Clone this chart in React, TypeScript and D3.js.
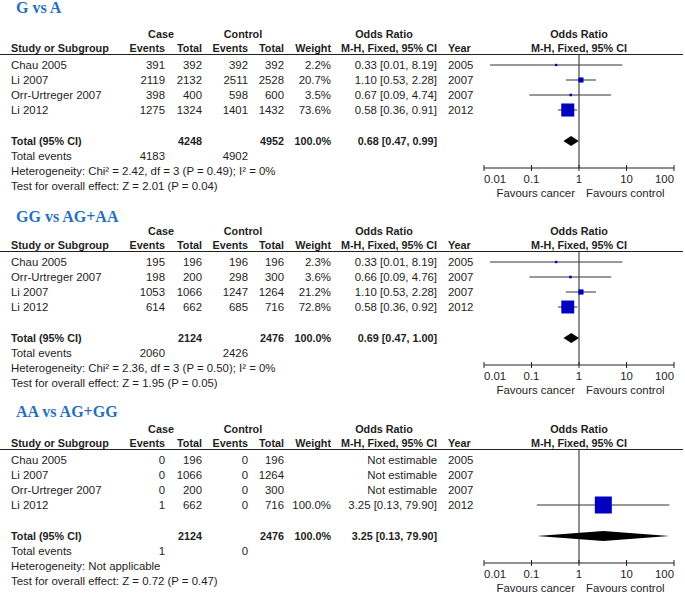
import React from "react";
import * as d3 from "d3";

const panelTitles = ["G vs A", "GG vs AG+AA", "AA vs AG+GG"];
const studies = [
  ["Chau 2005", "Li 2007", "Orr-Urtreger 2007", "Li 2012"],
  ["Chau 2005", "Orr-Urtreger 2007", "Li 2007", "Li 2012"],
  ["Chau 2005", "Li 2007", "Orr-Urtreger 2007", "Li 2012"],
];
const caseEvents = [
  [391, 2119, 398, 1275],
  [195, 198, 1053, 614],
  [0, 0, 0, 1],
];
const caseTotals = [
  [392, 2132, 400, 1324],
  [196, 200, 1066, 662],
  [196, 1066, 200, 662],
];
const ctrlEvents = [
  [392, 2511, 598, 1401],
  [196, 298, 1247, 685],
  [0, 0, 0, 0],
];
const ctrlTotals = [
  [392, 2528, 600, 1432],
  [196, 300, 1264, 716],
  [196, 1264, 300, 716],
];
const weights: (number | null)[][] = [
  [2.2, 20.7, 3.5, 73.6],
  [2.3, 3.6, 21.2, 72.8],
  [null, null, null, 100.0],
];
const oddsRatios: (number | null)[][] = [
  [0.33, 1.1, 0.67, 0.58],
  [0.33, 0.66, 1.1, 0.58],
  [null, null, null, 3.25],
];
const ciLower: (number | null)[][] = [
  [0.0134, 0.53, 0.09, 0.36],
  [0.0134, 0.09, 0.53, 0.36],
  [null, null, null, 0.13],
];
const ciUpper: (number | null)[][] = [
  [8.19, 2.28, 4.74, 0.91],
  [8.19, 4.76, 2.28, 0.92],
  [null, null, null, 79.9],
];
const years = [
  [2005, 2007, 2007, 2012],
  [2005, 2007, 2007, 2012],
  [2005, 2007, 2007, 2012],
];
const totalCase = [4248, 2124, 2124];
const totalCtrl = [4952, 2476, 2476];
const totalEventsCase = [4183, 2060, 1];
const totalEventsCtrl = [4902, 2426, 0];
const pooledOR = [0.68, 0.69, 3.25];
const pooledLo = [0.47, 0.47, 0.13];
const pooledHi = [0.99, 1.0, 79.9];
const heterogeneity = [
  "Heterogeneity: Chi\u00b2 = 2.42, df = 3 (P = 0.49); I\u00b2 = 0%",
  "Heterogeneity: Chi\u00b2 = 2.36, df = 3 (P = 0.50); I\u00b2 = 0%",
  "Heterogeneity: Not applicable",
];
const overallEffect = [
  "Test for overall effect: Z = 2.01 (P = 0.04)",
  "Test for overall effect: Z = 1.95 (P = 0.05)",
  "Test for overall effect: Z = 0.72 (P = 0.47)",
];
const axisTicks = [0.01, 0.1, 1, 10, 100];
const tickLabels = ["0.01", "0.1", "1", "10", "100"];

// layout
const W = 685;
const H = 593;
const panelOffsets = [0, 197, 395];
const titleYs = [13, 222, 417];
const FONT = "'Liberation Sans', Arial, sans-serif";
const TXT = "#1e1e1e";
const REG = 11.4;
const BOLD = 10.8;

const x = d3.scaleLog().domain([0.01, 100]).range([484, 674]);

const colX = {
  study: 11,
  caseEv: 165,
  caseTot: 202,
  ctrlEv: 248,
  ctrlTot: 284,
  weight: 331,
  or: 437,
  year: 448,
};

const fmt2 = (v: number) => v.toFixed(2);
const orText = (o: number, l: number, h: number) => `${fmt2(o)} [${fmt2(l)}, ${fmt2(h)}]`;

function Panel({ p }: { p: number }) {
  const oy = panelOffsets[p];
  const rowY = (i: number) => oy + 69 + i * 15;
  const totalY = oy + 145;
  const axisY = oy + 168;
  const underY = oy + 54.5;
  const x1 = x(1);
  const reg = { fontFamily: FONT, fontSize: REG, fill: TXT };
  const bold = { fontFamily: FONT, fontSize: BOLD, fontWeight: 700, fill: TXT };
  return (
    <g>
      <text x={16} y={titleYs[p]} fontFamily="'Liberation Serif', 'Times New Roman', serif" fontWeight={700} fontSize={16} fill="#1f6fc2">
        {panelTitles[p]}
      </text>
      {/* group headers */}
      <text {...bold} x={161} y={oy + 38} textAnchor="middle">Case</text>
      <text {...bold} x={243} y={oy + 38} textAnchor="middle">Control</text>
      <text {...bold} x={384} y={oy + 38} textAnchor="middle">Odds Ratio</text>
      <text {...bold} x={x1} y={oy + 38} textAnchor="middle">Odds Ratio</text>
      <text {...bold} x={colX.study} y={oy + 52}>Study or Subgroup</text>
      <text {...bold} x={colX.caseEv} y={oy + 52} textAnchor="end">Events</text>
      <text {...bold} x={colX.caseTot} y={oy + 52} textAnchor="end">Total</text>
      <text {...bold} x={colX.ctrlEv} y={oy + 52} textAnchor="end">Events</text>
      <text {...bold} x={colX.ctrlTot} y={oy + 52} textAnchor="end">Total</text>
      <text {...bold} x={colX.weight} y={oy + 52} textAnchor="end">Weight</text>
      <text {...bold} x={colX.or} y={oy + 52} textAnchor="end">M-H, Fixed, 95% CI</text>
      <text {...bold} x={colX.year} y={oy + 52}>Year</text>
      <text {...bold} x={x1} y={oy + 52} textAnchor="middle">M-H, Fixed, 95% CI</text>
      <line x1={0} x2={683} y1={underY} y2={underY} stroke="#222" strokeWidth={1} />
      {/* study rows */}
      {studies[p].map((s, i) => {
        const y = rowY(i);
        const o = oddsRatios[p][i];
        const l = ciLower[p][i];
        const h = ciUpper[p][i];
        const w = weights[p][i];
        return (
          <g key={s + i}>
            <text {...reg} x={colX.study} y={y}>{s}</text>
            <text {...reg} x={colX.caseEv} y={y} textAnchor="end">{caseEvents[p][i]}</text>
            <text {...reg} x={colX.caseTot} y={y} textAnchor="end">{caseTotals[p][i]}</text>
            <text {...reg} x={colX.ctrlEv} y={y} textAnchor="end">{ctrlEvents[p][i]}</text>
            <text {...reg} x={colX.ctrlTot} y={y} textAnchor="end">{ctrlTotals[p][i]}</text>
            {w !== null && (
              <text {...reg} x={colX.weight} y={y} textAnchor="end">{w.toFixed(1)}%</text>
            )}
            <text {...reg} x={colX.or} y={y} textAnchor="end">
              {o !== null && l !== null && h !== null ? orText(o, l, h) : "Not estimable"}
            </text>
            <text {...reg} x={colX.year} y={y}>{years[p][i]}</text>
          </g>
        );
      })}
      {/* totals */}
      <text {...bold} x={colX.study} y={totalY}>Total (95% CI)</text>
      <text {...bold} x={colX.caseTot} y={totalY} textAnchor="end">{totalCase[p]}</text>
      <text {...bold} x={colX.ctrlTot} y={totalY} textAnchor="end">{totalCtrl[p]}</text>
      <text {...bold} x={colX.weight} y={totalY} textAnchor="end">100.0%</text>
      <text {...bold} x={colX.or} y={totalY} textAnchor="end">{orText(pooledOR[p], pooledLo[p], pooledHi[p])}</text>
      <text {...reg} x={colX.study} y={oy + 160}>Total events</text>
      <text {...reg} x={colX.caseEv} y={oy + 160} textAnchor="end">{totalEventsCase[p]}</text>
      <text {...reg} x={colX.ctrlEv} y={oy + 160} textAnchor="end">{totalEventsCtrl[p]}</text>
      <text {...reg} x={colX.study} y={oy + 175}>{heterogeneity[p]}</text>
      <text {...reg} x={colX.study} y={oy + 190}>{overallEffect[p]}</text>
      {/* forest plot */}
      <line x1={x1} x2={x1} y1={underY} y2={axisY} stroke="#222" strokeWidth={1} />
      {studies[p].map((s, i) => {
        const o = oddsRatios[p][i];
        const l = ciLower[p][i];
        const h = ciUpper[p][i];
        const w = weights[p][i];
        if (o === null || l === null || h === null || w === null) return null;
        const cy = rowY(i) - 4;
        const side = 2 + w * 0.15;
        return (
          <g key={"m" + i}>
            <line x1={x(l)} x2={x(h)} y1={cy} y2={cy} stroke="#333" strokeWidth={1} />
            <rect x={x(o) - side / 2} y={cy - side / 2} width={side} height={side} fill="#0000c0" />
          </g>
        );
      })}
      {(() => {
        const cy = totalY - 4;
        const pts = [
          [x(pooledLo[p]), cy],
          [x(pooledOR[p]), cy - 5],
          [x(pooledHi[p]), cy],
          [x(pooledOR[p]), cy + 5],
        ];
        return <polygon points={pts.map((q) => q.join(",")).join(" ")} fill="#000" />;
      })()}
      {/* axis */}
      <line x1={x(0.01)} x2={x(100)} y1={axisY} y2={axisY} stroke="#222" strokeWidth={1} />
      {axisTicks.map((t, k) => (
        <g key={"t" + k}>
          <line x1={x(t)} x2={x(t)} y1={axisY - 3} y2={axisY + 3} stroke="#222" strokeWidth={1} />
          <text
            {...reg}
            x={x(t)}
            y={oy + 183}
            textAnchor={k === 0 ? "start" : k === axisTicks.length - 1 ? "end" : "middle"}
          >
            {tickLabels[k]}
          </text>
        </g>
      ))}
      <text {...reg} x={x1 - 4} y={oy + 197} textAnchor="end">Favours cancer</text>
      <text {...reg} x={x1 + 7} y={oy + 197}>Favours control</text>
    </g>
  );
}

export default function App() {
  return (
    <svg width={W} height={H} style={{ position: "absolute", left: 0, top: 0, background: "#fff" }}>
      <rect width={W} height={H} fill="#fff" />
      {[0, 1, 2].map((p) => (
        <Panel key={p} p={p} />
      ))}
    </svg>
  );
}
